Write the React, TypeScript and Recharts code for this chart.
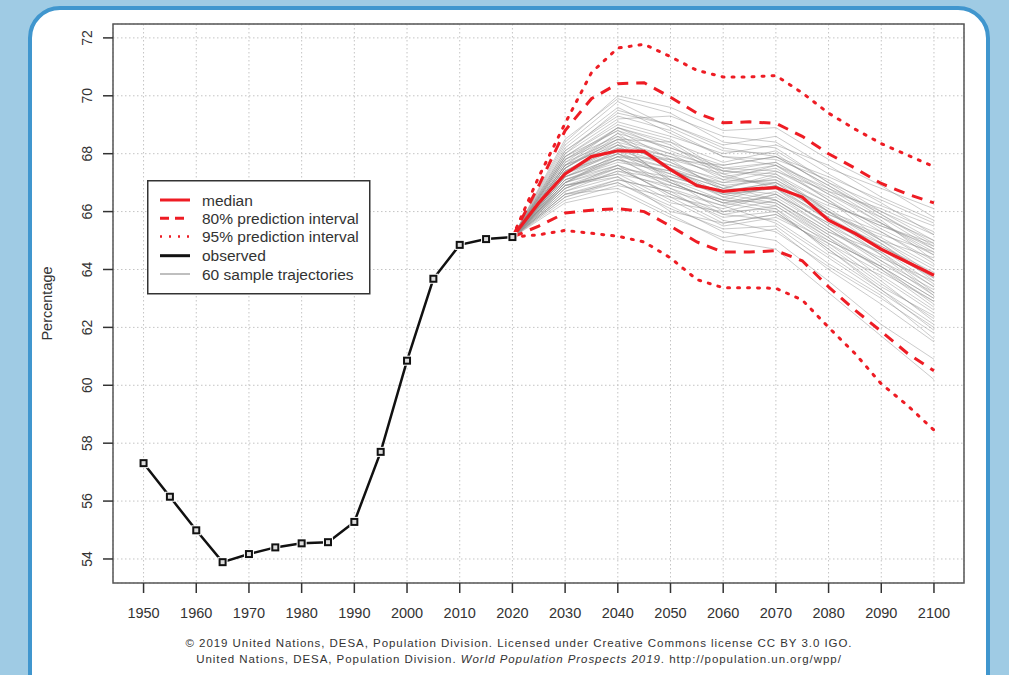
import { LineChart, Line, XAxis, YAxis, CartesianGrid, ReferenceArea, Legend } from 'recharts'

// observed 1950-2020
const observedYears = [1950, 1955, 1960, 1965, 1970, 1975, 1980, 1985, 1990, 1995, 2000, 2005, 2010, 2015, 2020]
const observedValues = [57.31, 56.15, 54.99, 53.89, 54.17, 54.4, 54.54, 54.58, 55.28, 57.7, 60.85, 63.68, 64.85, 65.05, 65.12]

// projections 2020-2100, 5-year steps
const projYears = [2020, 2025, 2030, 2035, 2040, 2045, 2050, 2055, 2060, 2065, 2070, 2075, 2080, 2085, 2090, 2095, 2100]
const median = [65.12, 66.3, 67.3, 67.9, 68.1, 68.08, 67.45, 66.9, 66.7, 66.78, 66.83, 66.5, 65.7, 65.25, 64.7, 64.25, 63.8]
const upper80 = [65.12, 66.9, 68.8, 69.9, 70.42, 70.45, 69.95, 69.4, 69.07, 69.1, 69.05, 68.6, 68.0, 67.5, 66.97, 66.6, 66.3]
const lower80 = [65.12, 65.5, 65.95, 66.05, 66.1, 66.0, 65.5, 64.95, 64.6, 64.6, 64.65, 64.3, 63.4, 62.6, 61.86, 61.1, 60.5]
const upper95 = [65.12, 67.2, 69.05, 70.8, 71.65, 71.78, 71.35, 70.88, 70.65, 70.65, 70.7, 70.1, 69.4, 68.85, 68.35, 67.95, 67.55]
const lower95 = [65.12, 65.2, 65.35, 65.25, 65.15, 64.95, 64.4, 63.65, 63.37, 63.37, 63.35, 62.95, 62.0, 61.1, 60.05, 59.3, 58.45]

// sample trajectories, 10-year steps
const trajYears = [2020, 2030, 2040, 2050, 2060, 2070, 2080, 2090, 2100]
const trajectories = [
  [65.1, 67.4, 68.3, 67.9, 67.2, 67.5, 66.4, 65.3, 64.2],
  [65.1, 66.8, 67.5, 66.6, 65.9, 66.2, 65.0, 64.1, 63.0],
  [65.1, 68.1, 69.4, 69.0, 68.3, 68.6, 67.5, 66.8, 66.1],
  [65.1, 66.3, 66.7, 65.8, 65.1, 65.4, 64.0, 62.8, 61.5],
  [65.1, 67.7, 68.9, 68.1, 67.4, 67.2, 66.0, 64.9, 63.7],
  [65.1, 67.1, 67.8, 67.3, 66.5, 66.9, 65.9, 65.2, 64.6],
  [65.1, 68.4, 70.0, 69.6, 68.8, 68.9, 67.8, 66.9, 65.8],
  [65.1, 66.6, 67.0, 66.2, 65.3, 65.0, 63.6, 62.1, 60.9],
  [65.1, 67.5, 68.5, 68.4, 67.7, 68.1, 67.0, 66.2, 65.5],
  [65.1, 67.0, 67.6, 66.9, 66.4, 66.3, 65.2, 64.0, 62.7],
  [65.1, 67.9, 69.0, 68.5, 67.4, 67.7, 66.7, 65.6, 64.6],
  [65.1, 66.9, 67.2, 66.0, 65.6, 65.9, 64.8, 63.5, 62.3],
  [65.1, 67.3, 68.1, 67.6, 66.9, 66.4, 65.3, 64.6, 63.4],
  [65.1, 68.2, 69.6, 68.7, 67.9, 67.8, 67.1, 66.0, 65.0],
  [65.1, 66.4, 66.9, 66.5, 66.1, 66.6, 65.6, 64.8, 63.9],
  [65.1, 67.6, 68.7, 67.5, 66.6, 66.8, 65.8, 64.5, 63.1],
  [65.1, 67.2, 67.9, 67.8, 67.6, 67.9, 66.9, 65.9, 64.9],
  [65.1, 66.7, 67.4, 66.8, 66.2, 65.6, 64.4, 63.2, 62.0],
  [65.1, 67.8, 68.6, 67.4, 66.8, 67.3, 66.3, 65.5, 64.8],
  [65.1, 67.0, 68.0, 67.1, 66.0, 66.1, 64.6, 63.8, 62.6],
  [65.1, 68.0, 69.2, 69.3, 68.6, 68.4, 67.3, 66.3, 65.2],
  [65.1, 66.5, 67.1, 66.7, 65.7, 65.3, 64.1, 63.0, 61.8],
  [65.1, 67.4, 68.4, 67.0, 66.3, 66.7, 65.5, 64.3, 63.3],
  [65.1, 67.1, 67.7, 67.4, 67.0, 67.1, 66.1, 65.0, 64.4],
  [65.1, 67.6, 68.9, 68.3, 67.2, 66.9, 65.7, 64.9, 63.6],
  [65.1, 66.9, 67.3, 66.4, 65.5, 65.8, 64.9, 63.9, 62.9],
  [65.1, 68.3, 69.8, 68.9, 68.1, 68.0, 66.8, 65.7, 64.3],
  [65.1, 67.3, 68.2, 67.8, 67.3, 67.6, 66.6, 65.8, 65.0],
  [65.1, 66.6, 66.8, 65.9, 65.0, 64.7, 63.2, 61.7, 60.2],
  [65.1, 67.5, 68.6, 68.0, 67.1, 67.0, 65.9, 65.1, 64.1],
  [65.1, 67.8, 68.8, 68.2, 67.5, 67.4, 66.5, 65.4, 64.5],
  [65.1, 67.0, 67.5, 66.6, 65.8, 66.0, 64.7, 63.4, 62.4],
  [65.1, 67.2, 68.1, 67.2, 66.7, 67.0, 66.2, 65.6, 64.7],
  [65.1, 68.5, 69.9, 69.4, 68.4, 68.2, 67.0, 65.9, 64.8],
  [65.1, 66.8, 67.6, 67.0, 66.3, 66.5, 65.4, 64.2, 63.2],
  [65.1, 67.4, 68.0, 67.3, 66.6, 66.3, 65.1, 64.0, 62.9],
  [65.1, 67.7, 68.5, 67.7, 67.0, 67.4, 66.7, 66.1, 65.3],
  [65.1, 66.9, 67.3, 66.9, 66.4, 66.1, 64.9, 63.6, 62.2],
  [65.1, 67.9, 69.1, 68.6, 68.0, 68.3, 67.6, 66.5, 65.7],
  [65.1, 67.2, 67.9, 66.8, 65.9, 65.7, 64.5, 63.3, 61.9],
  [65.1, 67.6, 68.4, 67.9, 67.4, 67.3, 66.0, 64.7, 63.5],
  [65.1, 66.7, 67.2, 66.3, 66.0, 66.4, 65.3, 64.4, 63.6],
  [65.1, 67.3, 68.3, 67.7, 66.8, 66.6, 65.6, 64.5, 63.4],
  [65.1, 68.1, 69.3, 68.8, 67.9, 67.6, 66.4, 65.0, 63.8],
  [65.1, 67.0, 67.8, 67.4, 66.8, 67.2, 66.3, 65.5, 64.9],
  [65.1, 66.5, 67.0, 66.1, 65.4, 65.5, 64.2, 63.1, 61.6],
  [65.1, 67.5, 68.7, 68.2, 67.6, 67.9, 67.2, 66.4, 65.6],
  [65.1, 67.1, 67.6, 66.5, 65.6, 65.9, 65.0, 64.1, 63.0],
  [65.1, 67.8, 68.9, 68.4, 67.3, 66.8, 65.5, 64.6, 63.2],
  [65.1, 67.3, 68.0, 67.5, 66.9, 67.1, 66.0, 65.0, 64.0],
  [65.1, 66.8, 67.4, 67.1, 66.6, 66.8, 65.7, 64.7, 63.7],
  [65.1, 67.9, 68.8, 67.8, 66.7, 66.4, 65.2, 64.1, 62.8],
  [65.1, 67.4, 68.2, 67.6, 67.1, 67.6, 66.8, 66.0, 65.2],
  [65.1, 67.0, 67.9, 67.5, 66.5, 66.2, 65.1, 63.7, 62.5],
  [65.1, 67.6, 68.3, 67.1, 66.4, 66.9, 66.0, 65.3, 64.3],
  [65.1, 66.6, 67.1, 66.7, 66.2, 66.6, 65.4, 64.3, 63.1],
  [65.1, 68.0, 69.5, 69.0, 68.2, 67.9, 66.9, 65.8, 64.7],
  [65.1, 67.2, 67.8, 67.0, 66.3, 66.0, 64.7, 63.3, 62.1],
  [65.1, 67.5, 68.5, 68.0, 67.5, 67.7, 66.6, 65.6, 64.5],
  [65.1, 66.9, 67.5, 67.2, 66.7, 67.0, 65.8, 64.8, 63.8],
]

const xTicks = [1950, 1960, 1970, 1980, 1990, 2000, 2010, 2020, 2030, 2040, 2050, 2060, 2070, 2080, 2090, 2100]
const yTicks = [54, 56, 58, 60, 62, 64, 66, 68, 70, 72]

const X_DOMAIN: [number, number] = [1944.2, 2105.7]
const Y_DOMAIN: [number, number] = [53.17, 72.48]
const RED = '#ee1c24'
const FONT = '"Liberation Sans", Arial, sans-serif'

const pairs = (xs: number[], ys: number[]) => xs.map((year, i) => ({ year, v: ys[i] }))

const observedData = pairs(observedYears, observedValues)
const medianData = pairs(projYears, median)
const upper80Data = pairs(projYears, upper80)
const lower80Data = pairs(projYears, lower80)
const upper95Data = pairs(projYears, upper95)
const lower95Data = pairs(projYears, lower95)
const trajData = trajectories.map((t) => pairs(trajYears, t))

const YTick = ({ x, y, payload }: any) => (
  <text
    x={x - 9}
    y={y}
    transform={`rotate(-90 ${x - 9} ${y})`}
    textAnchor="middle"
    fontSize={14}
    fill="#333"
    fontFamily={FONT}
  >
    {payload.value}
  </text>
)

const XTick = ({ x, y, payload }: any) => (
  <text x={x} y={y + 23} textAnchor="middle" fontSize={14.5} fill="#333" fontFamily={FONT}>
    {payload.value}
  </text>
)

const ObservedDot = (props: any) => {
  const { cx, cy, index } = props
  return (
    <g key={`obs-${index}`}>
      <rect x={cx - 5} y={cy - 5} width={10} height={10} fill="#fff" />
      <rect x={cx - 3} y={cy - 3} width={6} height={6} fill="#ddd" stroke="#111" strokeWidth={2} />
    </g>
  )
}

const legendRows = [
  { label: 'median', stroke: RED, dash: undefined, width: 3 },
  { label: '80% prediction interval', stroke: RED, dash: '9 6', width: 3 },
  { label: '95% prediction interval', stroke: RED, dash: '2 7', width: 2.5 },
  { label: 'observed', stroke: '#111', dash: undefined, width: 3 },
  { label: '60 sample trajectories', stroke: '#aaa', dash: undefined, width: 1.5 },
]

const LegendBox = () => (
  <svg width={224} height={115} style={{ display: 'block' }}>
    <rect x={0.75} y={0.75} width={222} height={113} fill="#fff" stroke="#333" strokeWidth={1.5} />
    {legendRows.map((r, i) => {
      const cy = 20 + i * 18.3 + (i >= 3 ? 0.8 : 0)
      return (
        <g key={r.label}>
          <line x1={13} x2={43} y1={cy} y2={cy} stroke={r.stroke} strokeWidth={r.width} strokeDasharray={r.dash} />
          <text x={55} y={cy + 5.5} fontSize={15.5} fill="#333" fontFamily={FONT}>
            {r.label}
          </text>
        </g>
      )
    })}
  </svg>
)

export default function App() {
  return (
    <div style={{ position: 'absolute', left: 0, top: 0, width: 1009, height: 675, background: '#9fcbe4', overflow: 'hidden' }}>
      <div
        style={{
          position: 'absolute',
          left: 28,
          top: 6,
          width: 954,
          height: 720,
          background: '#fff',
          border: '4px solid #4096ce',
          borderRadius: 32,
        }}
      />
      <div style={{ position: 'absolute', left: 0, top: 0 }}>
        <LineChart width={1009} height={675} margin={{ top: 24, right: 45, bottom: 52, left: 0 }}>
          <CartesianGrid stroke="#c4c4c4" strokeDasharray="1.5 2.5" />
          <XAxis
            dataKey="year"
            type="number"
            domain={X_DOMAIN}
            allowDataOverflow
            ticks={xTicks}
            tick={<XTick />}
            tickSize={10}
            tickLine={{ stroke: '#333', strokeWidth: 1.5 }}
            axisLine={false}
            height={40}
          />
          <YAxis
            type="number"
            domain={Y_DOMAIN}
            allowDataOverflow
            ticks={yTicks}
            tick={<YTick />}
            tickSize={10}
            tickLine={{ stroke: '#333', strokeWidth: 1.5 }}
            axisLine={false}
            width={113}
            label={{
              value: 'Percentage',
              angle: -90,
              position: 'insideLeft',
              dx: 42,
              style: { fontSize: 14.5, fill: '#333', fontFamily: FONT, textAnchor: 'middle' },
            }}
          />
          {trajData.map((d, i) => (
            <Line
              key={`traj-${i}`}
              data={d}
              dataKey="v"
              type="linear"
              stroke="#8c8c8c"
              strokeOpacity={0.45}
              strokeWidth={1}
              dot={false}
              isAnimationActive={false}
            />
          ))}
          <Line
            data={observedData}
            dataKey="v"
            type="linear"
            stroke="#111"
            strokeWidth={2.5}
            dot={ObservedDot}
            isAnimationActive={false}
          />
          <Line data={upper95Data} dataKey="v" type="linear" stroke={RED} strokeWidth={3} strokeDasharray="2 8" strokeLinecap="round" dot={false} isAnimationActive={false} />
          <Line data={lower95Data} dataKey="v" type="linear" stroke={RED} strokeWidth={3} strokeDasharray="2 8" strokeLinecap="round" dot={false} isAnimationActive={false} />
          <Line data={upper80Data} dataKey="v" type="linear" stroke={RED} strokeWidth={3} strokeDasharray="11 8" dot={false} isAnimationActive={false} />
          <Line data={lower80Data} dataKey="v" type="linear" stroke={RED} strokeWidth={3} strokeDasharray="11 8" dot={false} isAnimationActive={false} />
          <Line data={medianData} dataKey="v" type="linear" stroke={RED} strokeWidth={3.2} dot={false} isAnimationActive={false} />
          <ReferenceArea x1={X_DOMAIN[0]} x2={X_DOMAIN[1]} y1={Y_DOMAIN[0]} y2={Y_DOMAIN[1]} fill="none" stroke="#555" strokeWidth={1.5} />
          <Legend
            verticalAlign="middle"
            layout="horizontal"
            content={() => <LegendBox />}
            wrapperStyle={{ left: 147, top: 180, width: 224, height: 115 }}
          />
        </LineChart>
      </div>
      <div
        style={{
          position: 'absolute',
          left: 0,
          width: 1038,
          top: 635,
          textAlign: 'center',
          fontFamily: FONT,
          fontSize: 11.5,
          letterSpacing: 0.95,
          lineHeight: '16px',
          color: '#333',
        }}
      >
        <div>© 2019 United Nations, DESA, Population Division. Licensed under Creative Commons license CC BY 3.0 IGO.</div>
        <div>
          United Nations, DESA, Population Division. <i>World Population Prospects 2019</i>. http://population.un.org/wpp/
        </div>
      </div>
    </div>
  )
}
